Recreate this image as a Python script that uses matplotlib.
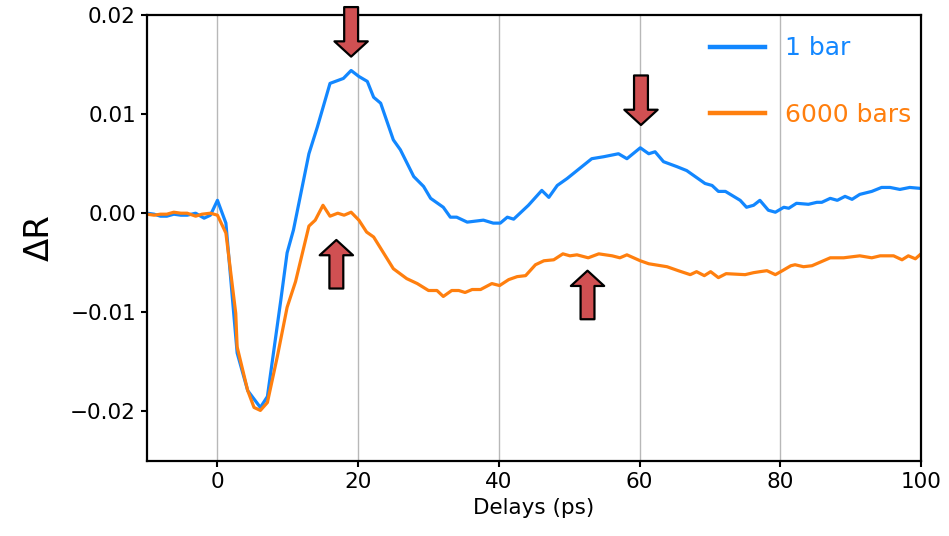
import numpy as np
import matplotlib
matplotlib.use("Agg")
import matplotlib.pyplot as plt


# ---------------------data-------------------------------------------
t_1bar = [-10, -9.0, -8.1, -7.2, -6.2, -5.2, -4.3, -3.1, -1.9, -1.0, 0.0, 1.2, 2.8, 4.3, 6.1, 7.1,
          9.0, 9.9, 10.8, 13.0, 14.2, 16.0, 17.9, 19.0, 20.1, 21.3, 22.2, 23.2, 25.0, 26.0, 27.9,
          29.3, 30.3, 32.1, 33.1, 34.0, 35.5, 37.8, 39.2, 40.2, 41.2, 42.1, 44.2, 46.1, 47.1, 48.3,
          49.7, 51.1, 53.2, 54.9, 57.0, 58.2, 60.1, 61.3, 62.2, 63.4, 65.3, 66.7, 69.3, 70.3, 71.2,
          72.2, 74.3, 75.2, 76.2, 77.1, 78.3, 79.3, 80.5, 81.2, 82.3, 84.0, 85.2, 85.9, 87.1, 88.1,
          89.2, 90.2, 91.3, 93.0, 94.4, 95.6, 97.0, 98.4, 100]
dR_1bar = [0.0000, -0.0001, -0.0003, -0.0003, -0.0001, -0.0002, -0.0002, 0.0000, -0.0005, -0.0002,
           0.0013, -0.0010, -0.0141, -0.0179, -0.0196, -0.0185, -0.0088, -0.0040, -0.0017, 0.0060,
           0.0087, 0.0131, 0.0136, 0.0144, 0.0138, 0.0133, 0.0117, 0.0111, 0.0074, 0.0064, 0.0037,
           0.0027, 0.0015, 0.0006, -0.0004, -0.0004, -0.0009, -0.0007, -0.0010, -0.0010, -0.0004,
           -0.0006, 0.0008, 0.0023, 0.0016, 0.0028, 0.0035, 0.0043, 0.0055, 0.0057, 0.0060, 0.0055,
           0.0066, 0.0060, 0.0062, 0.0052, 0.0047, 0.0043, 0.0030, 0.0028, 0.0022, 0.0022, 0.0013,
           0.0006, 0.0008, 0.0013, 0.0003, 0.0001, 0.0006, 0.0005, 0.0010, 0.0009, 0.0011, 0.0011,
           0.0015, 0.0013, 0.0017, 0.0014, 0.0019, 0.0022, 0.0026, 0.0026, 0.0024, 0.0026, 0.0025]

t_6000 = [-10, -9.0, -8.1, -7.2, -6.2, -5.2, -4.3, -3.1, -2.2, -1.0, 0.0, 1.2, 2.6, 2.8, 4.3, 5.2,
          6.1, 7.1, 8.5, 9.9, 11.1, 13.0, 13.9, 15.0, 16.0, 17.1, 18.0, 19.0, 20.1, 21.2, 22.2,
          25.0, 26.9, 28.4, 30.0, 31.2, 32.1, 33.3, 34.3, 35.2, 36.2, 37.4, 39.0, 40.1, 41.4, 42.6,
          43.8, 45.2, 46.4, 47.8, 49.1, 50.1, 51.1, 52.7, 54.2, 56.1, 57.2, 58.2, 60.1, 61.3, 63.9,
          65.5, 67.2, 68.1, 69.2, 70.1, 71.2, 72.3, 75.0, 76.2, 77.1, 78.1, 79.3, 80.3, 81.5, 82.1,
          83.3, 84.5, 87.1, 89.0, 91.3, 93.0, 94.2, 96.1, 97.3, 98.2, 99.2, 100]
dR_6000 = [-0.0001, -0.0002, -0.0001, -0.0001, 0.0001, 0.0000, 0.0000, -0.0003, -0.0001, 0.0000,
           -0.0002, -0.0020, -0.0101, -0.0135, -0.0179, -0.0196, -0.0199, -0.0191, -0.0145, -0.0095,
           -0.0069, -0.0013, -0.0007, 0.0008, -0.0003, 0.0000, -0.0002, 0.0001, -0.0007, -0.0019,
           -0.0024, -0.0056, -0.0066, -0.0071, -0.0078, -0.0078, -0.0084, -0.0078, -0.0078, -0.0080,
           -0.0077, -0.0077, -0.0071, -0.0073, -0.0067, -0.0064, -0.0063, -0.0052, -0.0048, -0.0047,
           -0.0041, -0.0043, -0.0042, -0.0045, -0.0041, -0.0043, -0.0045, -0.0042, -0.0048, -0.0051,
           -0.0054, -0.0058, -0.0062, -0.0059, -0.0063, -0.0059, -0.0065, -0.0061, -0.0062, -0.0060,
           -0.0059, -0.0058, -0.0062, -0.0058, -0.0053, -0.0052, -0.0054, -0.0053, -0.0045, -0.0045,
           -0.0043, -0.0045, -0.0043, -0.0043, -0.0047, -0.0043, -0.0046, -0.0041]

labels = ["1 bar", "6000 bars"]
colors = ["#1287ff", "#ff7f0e"]

# arrows: (x, tail y, tip y)
arrows_down = [(19.0, 0.0208, 0.0158), (60.2, 0.0139, 0.0089)]
arrows_up = [(16.9, -0.0076, -0.0027), (52.6, -0.0107, -0.0058)]

# ---------------------plotting-----------------------
fig = plt.figure(figsize=(9.49, 5.36), dpi=100)
ax = fig.add_axes([0.155, 0.140, 0.8155, 0.832])

ax.plot(t_1bar, dR_1bar, color=colors[0], lw=2.3, label=labels[0])
ax.plot(t_6000, dR_6000, color=colors[1], lw=2.3, label=labels[1])

ax.set_xlim(-10, 100)
ax.set_ylim(-0.025, 0.02)
ax.set_xticks([0, 20, 40, 60, 80, 100])
ax.set_yticks([-0.02, -0.01, 0.0, 0.01, 0.02])
ax.set_yticklabels(["\u22120.02", "\u22120.01", "0.00", "0.01", "0.02"])
ax.xaxis.grid(True, color="#b8b8b8", lw=1.0)
ax.set_axisbelow(True)

for sp in ax.spines.values():
    sp.set_linewidth(1.6)
ax.tick_params(labelsize=15.5, width=1.5, length=4.5)
ax.set_xlabel("Delays (ps)", fontsize=15.5, labelpad=4)
ax.set_ylabel("\u0394R", fontsize=24.5, labelpad=10)

for x, y0, y1 in arrows_down + arrows_up:
    ax.annotate("", xy=(x, y1), xytext=(x, y0), annotation_clip=False,
                arrowprops=dict(arrowstyle="simple, head_width=2.4, head_length=1.1, tail_width=1.0",
                                mutation_scale=10, fc="#d05052", ec="black", lw=1.6,
                                shrinkA=0, shrinkB=0))

leg = ax.legend(loc="upper left", bbox_to_anchor=(0.727, 0.952), frameon=False, fontsize=18,
                handlelength=2.2, handletextpad=0.8, labelspacing=1.7, borderpad=0, borderaxespad=0)
for txt, c in zip(leg.get_texts(), colors):
    txt.set_color(c)
for line in leg.get_lines():
    line.set_linewidth(3.2)

fig.savefig("out.png", dpi=100)
